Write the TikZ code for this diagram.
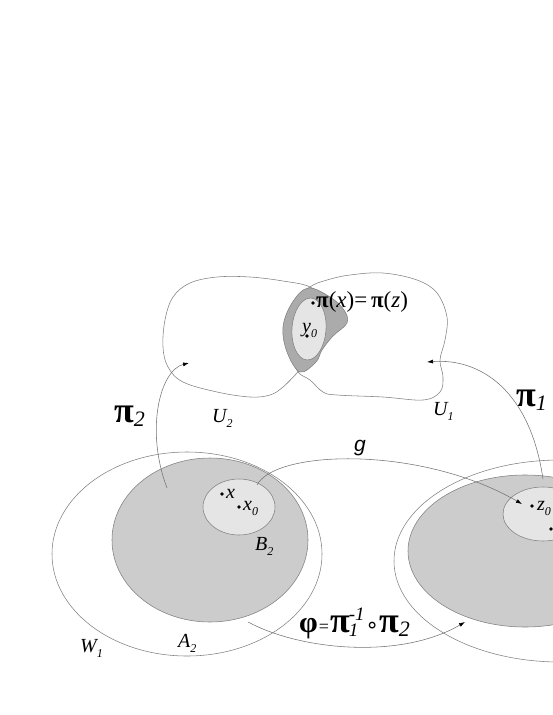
\documentclass[tikz,border=0pt]{standalone}
\usepackage{fontspec}
\setmainfont{Liberation Serif}
\setsansfont{Liberation Sans}
\newfontfamily\symfont{DejaVu Sans}
\usetikzlibrary{arrows.meta}
\newcommand\sbs[1]{\raisebox{-0.28em}{\fontsize{12}{12}\selectfont\itshape #1}}
\newcommand\bgpi{{\fontsize{36}{36}\selectfont\bfseries\upshape π}}
\newcommand\bgsub[1]{{\fontsize{22}{22}\selectfont\itshape\raisebox{-0.22em}{#1}}}
\begin{document}
\begin{tikzpicture}[x=1pt,y=-1pt,
  outl/.style={draw=black!50,line width=0.55pt},
  arr/.style={draw=black!55,line width=0.55pt,-{Latex[length=6pt,width=4pt,fill=black,color=black]}},
  lbl/.style={font=\fontsize{20}{20}\selectfont\itshape,inner sep=0pt,anchor=base west},
  biglbl/.style={inner sep=0pt,anchor=base west},
  pt/.style={fill=black}]
\useasboundingbox (0,0) rectangle (553,715);
% upper sets
\draw[outl] plot[smooth cycle,tension=0.6] coordinates {(298,372) (283,387) (270,395) (250,397) (217,392) (183,382) (168,367) (163,347) (165,320) (173,297) (190,283) (217,277) (250,277) (283,281) (310,287) (326,302) (328,330) (314,355)};
\draw[outl] plot[smooth cycle,tension=0.6] coordinates {(298,372) (310,380) (323,392) (337,395) (383,397) (423,400) (440,392) (443,377) (440,360) (445,340) (447,317) (437,293) (417,280) (383,273) (350,275) (327,280) (310,287) (296,303) (289,330) (292,355)};
\filldraw[outl,fill=black!33] plot[smooth cycle,tension=0.6] coordinates {(308,288) (330,297) (344,310) (347,323) (333,336) (322,350) (316,362) (300,372) (287,352) (283,327) (292,303)};
\filldraw[outl,fill=black!10,rotate around={-4:(309,329)}] (309,329) ellipse [x radius=17,y radius=31];
% lower sets
\draw[outl] (187,554) ellipse [x radius=135,y radius=102];
\filldraw[outl,fill=black!20] (210,540) ellipse [x radius=98,y radius=82];
\filldraw[outl,fill=black!10] (239,507) ellipse [x radius=36,y radius=28];
\draw[outl] (560,561) ellipse [x radius=166,y radius=101];
\filldraw[outl,fill=black!20] (525,551) ellipse [x radius=117,y radius=76];
\filldraw[outl,fill=black!10] (543,514) ellipse [x radius=40,y radius=27];
% points
\fill[pt] (313,303) circle (1.8);
\fill[pt] (307,336) circle (1.8);
\fill[pt] (222,494) circle (1.8);
\fill[pt] (239,507) circle (1.8);
\fill[pt] (532,506) circle (1.8);
\fill[pt] (551,529) circle (1.8);
% endpoints
\coordinate (p2s) at (167,488);
\coordinate (p2e) at (189,363);
\coordinate (p1s) at (543,479);
\coordinate (p1e) at (427,362);
\coordinate (gs) at (257,485);
\coordinate (ge) at (522,504);
\coordinate (fs) at (248,622);
\coordinate (fe) at (465,622);
\draw[arr] (p2s) .. controls (145,430) and (160,370) .. (p2e);
\draw[arr] (p1s) .. controls (530,390) and (480,358) .. (p1e);
\draw[arr] (gs) .. controls (275,450) and (420,445) .. (ge);
\draw[arr] (fs) .. controls (300,650) and (400,660) .. (fe);
% labels
\node[biglbl,font=\fontsize{23}{23}\selectfont] (pieq) at (316,307) {{\bfseries π}(\textit{x})=\,{\bfseries π}(\textit{z})};
\node[lbl] (y0) at (302,332) {y\sbs{0}};
\node[lbl] (U2) at (212,422) {U\sbs{2}};
\node[lbl] (U1) at (433,415) {U\sbs{1}};
\node[biglbl] (pi2) at (114,422) {\bgpi\bgsub{2}};
\node[biglbl] (pi1) at (516,406) {\bgpi\bgsub{1}};
\node[lbl,font=\fontsize{21}{21}\selectfont\sffamily\itshape] (g) at (354,451) {g};
\node[lbl] (x) at (226,498) {x};
\node[lbl] (x0) at (243,510) {x\sbs{0}};
\node[lbl] (B2) at (255,550) {B\sbs{2}};
\node[lbl] (A2) at (178,647) {A\sbs{2}};
\node[lbl] (W1) at (80,652) {W\sbs{1}};
\node[lbl] (z0) at (537,510) {z\sbs{0}};
\node[biglbl] (phi) at (299,632) {{\fontsize{30}{30}\selectfont\bfseries\upshape φ}{\fontsize{18}{18}\selectfont\kern1pt=\kern1pt}\bgpi\kern-1pt{\fontsize{19}{19}\selectfont\itshape\rlap{\raisebox{0.62em}{-1}}\raisebox{-0.25em}{1}}\kern7pt{\fontsize{22}{22}\selectfont\symfont ∘}\kern0pt\bgpi\bgsub{2}};
\end{tikzpicture}
\end{document}
